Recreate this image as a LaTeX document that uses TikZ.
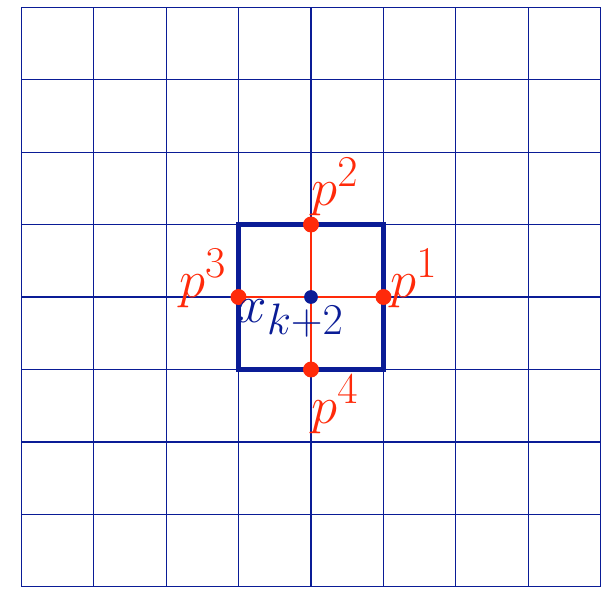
\documentclass[tikz,border=0pt]{standalone}
\DeclareMathSizes{21}{21}{19}{14}
\definecolor{gridblue}{RGB}{10,28,150}
\definecolor{ptred}{RGB}{255,42,10}
\tikzset{
	dotred/.style={circle, fill=ptred, inner sep=0pt, minimum size=0.22cm},
	dotblue/.style={circle, fill=gridblue, inner sep=0pt, minimum size=0.19cm},
	labred/.style={text=ptred, inner sep=0pt, font=\fontsize{21}{25}\selectfont},
	labblue/.style={text=gridblue, inner sep=0pt, font=\fontsize{21}{25}\selectfont}
}
\begin{document}
\begin{tikzpicture}
	\def\xA{0};
	\def\yA{0};
	\def\xB{8};
	\def\yB{8};
	\useasboundingbox (-0.29,-0.014) rectangle (8.097,8.097);
	\coordinate (A) at (\xA,\yA);
	\coordinate (B) at (\xB,\yB);
	\draw[step=1cm, gridblue, line width=0.4pt] (A) grid (B);
	\def\xc{4};
	\def\yc{4};
	\draw[line width=1.6pt, gridblue] (\xc-1,\yc-1) rectangle (\xc+1,\yc+1);
	% center and the four neighbours
	\coordinate (c) at (\xc,\yc);
	\coordinate (q1) at (\xc+1,\yc);
	\coordinate (q2) at (\xc,\yc+1);
	\coordinate (q3) at (\xc-1,\yc);
	\coordinate (q4) at (\xc,\yc-1);
	\draw[ptred, line width=0.9pt] (q3) -- (q1);
	\draw[ptred, line width=0.9pt] (q2) -- (q4);
	\node[dotblue] (xk) at (c) {};
	\foreach \i in {1,2,3,4} \node[dotred] (p\i) at (q\i) {};
	\node[labred, anchor=base west, xshift=2.5pt] (lab1) at (p1.center) {$p^1$};
	\node[labred, anchor=base west, yshift=7.5pt] (lab2) at (p2.center) {$p^2$};
	\node[labred, anchor=base east, xshift=-4.5pt] (lab3) at (p3.center) {$p^3$};
	\node[labred, anchor=base west, yshift=-21pt] (lab4) at (p4.center) {$p^4$};
	\node[labblue, anchor=base west, xshift=-29pt, yshift=-10pt] (labx) at (xk.center) {$x_{k+2}$};
\end{tikzpicture}
\end{document}
